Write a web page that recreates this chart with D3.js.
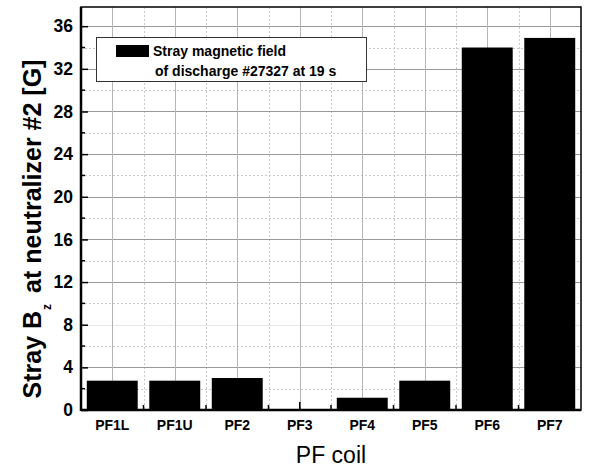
<!DOCTYPE html>
<html>
<head>
<meta charset="utf-8">
<script src="https://cdn.jsdelivr.net/npm/d3@7"></script>
<style>
  html, body { margin: 0; padding: 0; background: #fff; }
  svg { display: block; font-family: "Liberation Sans", Arial, sans-serif; }
</style>
</head>
<body>
<svg id="chart" width="590" height="469"></svg>
<script>
// PF coil contributions to the stray vertical field at neutralizer #2
const coils = ["PF1L", "PF1U", "PF2", "PF3", "PF4", "PF5", "PF6", "PF7"];
const strayBz = [2.75, 2.75, 3.0, 0.0, 1.15, 2.75, 34.0, 34.9];
const yTicks = [0, 4, 8, 12, 16, 20, 24, 28, 32, 36];
const yMinorTicks = [2, 6, 10, 14, 18, 22, 26, 30, 34];
const legendLines = ["Stray magnetic field", "of discharge #27327 at 19 s"];

const svg = d3.select("#chart");
const m = { left: 81, right: 581, top: 7, bottom: 410 };

const x = d3.scaleBand().domain(coils).range([m.left, m.right]).padding(0);
const y = d3.scaleLinear().domain([0, 37.8]).range([m.bottom, m.top]);
const barW = x.bandwidth() * 0.815;
const centre = d => x(d) + x.bandwidth() / 2;
const boundaries = coils.slice(1).map(d => x(d));

// grid: minor dotted, major solid
const grid = svg.append("g");
grid.selectAll(".hmin").data(yMinorTicks).join("line")
  .attr("x1", m.left).attr("x2", m.right)
  .attr("y1", d => Math.round(y(d)) + 0.5).attr("y2", d => Math.round(y(d)) + 0.5)
  .attr("stroke", "#c8c8c8").attr("stroke-width", 1).attr("stroke-dasharray", "2,2");
grid.selectAll(".vmin").data(boundaries).join("line")
  .attr("x1", d => Math.round(d) + 0.5).attr("x2", d => Math.round(d) + 0.5)
  .attr("y1", m.top).attr("y2", m.bottom)
  .attr("stroke", "#c8c8c8").attr("stroke-width", 1).attr("stroke-dasharray", "2,2");
grid.selectAll(".hmaj").data(yTicks.filter(d => d > 0)).join("line")
  .attr("x1", m.left).attr("x2", m.right)
  .attr("y1", d => Math.round(y(d)) + 0.5).attr("y2", d => Math.round(y(d)) + 0.5)
  .attr("stroke", d => d === 8 ? "#e6e6e6" : "#9a9a9a").attr("stroke-width", 1);
grid.selectAll(".vmaj").data(coils).join("line")
  .attr("x1", d => Math.round(centre(d)) + 0.5).attr("x2", d => Math.round(centre(d)) + 0.5)
  .attr("y1", m.top).attr("y2", m.bottom)
  .attr("stroke", "#b4b4b4").attr("stroke-width", 1);

// inward ticks on the category axis
const ticks = svg.append("g").attr("stroke", "#000").attr("stroke-width", 1.5);
ticks.selectAll(".xmaj").data(coils).join("line")
  .attr("x1", d => centre(d)).attr("x2", d => centre(d))
  .attr("y1", m.bottom).attr("y2", m.bottom - 8);
ticks.selectAll(".xmin").data(boundaries).join("line")
  .attr("x1", d => d).attr("x2", d => d)
  .attr("y1", m.bottom).attr("y2", m.bottom - 5);

// bars
svg.append("g").selectAll("rect").data(coils).join("rect")
  .attr("x", d => centre(d) - barW / 2)
  .attr("width", barW)
  .attr("y", (d, i) => y(strayBz[i]))
  .attr("height", (d, i) => y(0) - y(strayBz[i]))
  .attr("fill", "#000");

// y axis with inward ticks
const yAxis = d3.axisLeft(y).tickValues(yTicks).tickSize(-7).tickPadding(8).tickFormat(d3.format("d"));
const gy = svg.append("g").attr("transform", `translate(${m.left},0)`).call(yAxis);
gy.select(".domain").remove();
gy.selectAll(".tick line").attr("stroke-width", 1.5);
gy.selectAll(".tick text").attr("font-size", 17.5).attr("font-weight", "bold")
  .attr("font-family", "'Liberation Sans', Arial, sans-serif").attr("fill", "#000");
ticks.selectAll(".ymin").data(yMinorTicks).join("line")
  .attr("x1", m.left).attr("x2", m.left + 4)
  .attr("y1", d => y(d)).attr("y2", d => y(d));

// x axis labels
const xAxis = d3.axisBottom(x).tickSize(0).tickPadding(10);
const gx = svg.append("g").attr("transform", `translate(0,${m.bottom})`).call(xAxis);
gx.select(".domain").remove();
gx.selectAll(".tick text").attr("font-size", 14).attr("font-weight", "bold")
  .attr("font-family", "'Liberation Sans', Arial, sans-serif").attr("fill", "#000");

// frame
svg.append("rect").attr("x", m.left).attr("y", m.top)
  .attr("width", m.right - m.left).attr("height", m.bottom - m.top)
  .attr("fill", "none").attr("stroke", "#000").attr("stroke-width", 1.5);
svg.append("line").attr("x1", m.left).attr("x2", m.left).attr("y1", m.top).attr("y2", m.bottom + 1)
  .attr("stroke", "#000").attr("stroke-width", 2.5);
svg.append("line").attr("x1", m.left).attr("x2", m.right).attr("y1", m.bottom).attr("y2", m.bottom)
  .attr("stroke", "#000").attr("stroke-width", 2.5);

// legend
const lg = svg.append("g");
lg.append("rect").attr("x", 96.5).attr("y", 37.5).attr("width", 270).attr("height", 44)
  .attr("fill", "#fff").attr("stroke", "#333").attr("stroke-width", 1);
lg.append("rect").attr("x", 116).attr("y", 45).attr("width", 33).attr("height", 12).attr("fill", "#000");
lg.selectAll("text").data(legendLines).join("text")
  .attr("x", (d, i) => i === 0 ? 153 : 155)
  .attr("y", (d, i) => i === 0 ? 56 : 76)
  .attr("font-size", 14).attr("font-weight", "bold").attr("fill", "#000")
  .text(d => d);

// axis titles
const yt = svg.append("text")
  .attr("transform", "translate(41,229) rotate(-90)")
  .attr("text-anchor", "middle").attr("font-size", 25).attr("font-weight", "bold").attr("fill", "#000");
yt.append("tspan").text("Stray B");
yt.append("tspan").attr("font-size", 12).attr("dy", 10).attr("dx", 1).text("z");
yt.append("tspan").attr("dy", -10).attr("dx", 4).text(" at neutralizer #2 [G]");

svg.append("text").attr("x", (m.left + m.right) / 2).attr("y", 463)
  .attr("text-anchor", "middle").attr("font-size", 23).attr("fill", "#000")
  .text("PF coil");
</script>
</body>
</html>
